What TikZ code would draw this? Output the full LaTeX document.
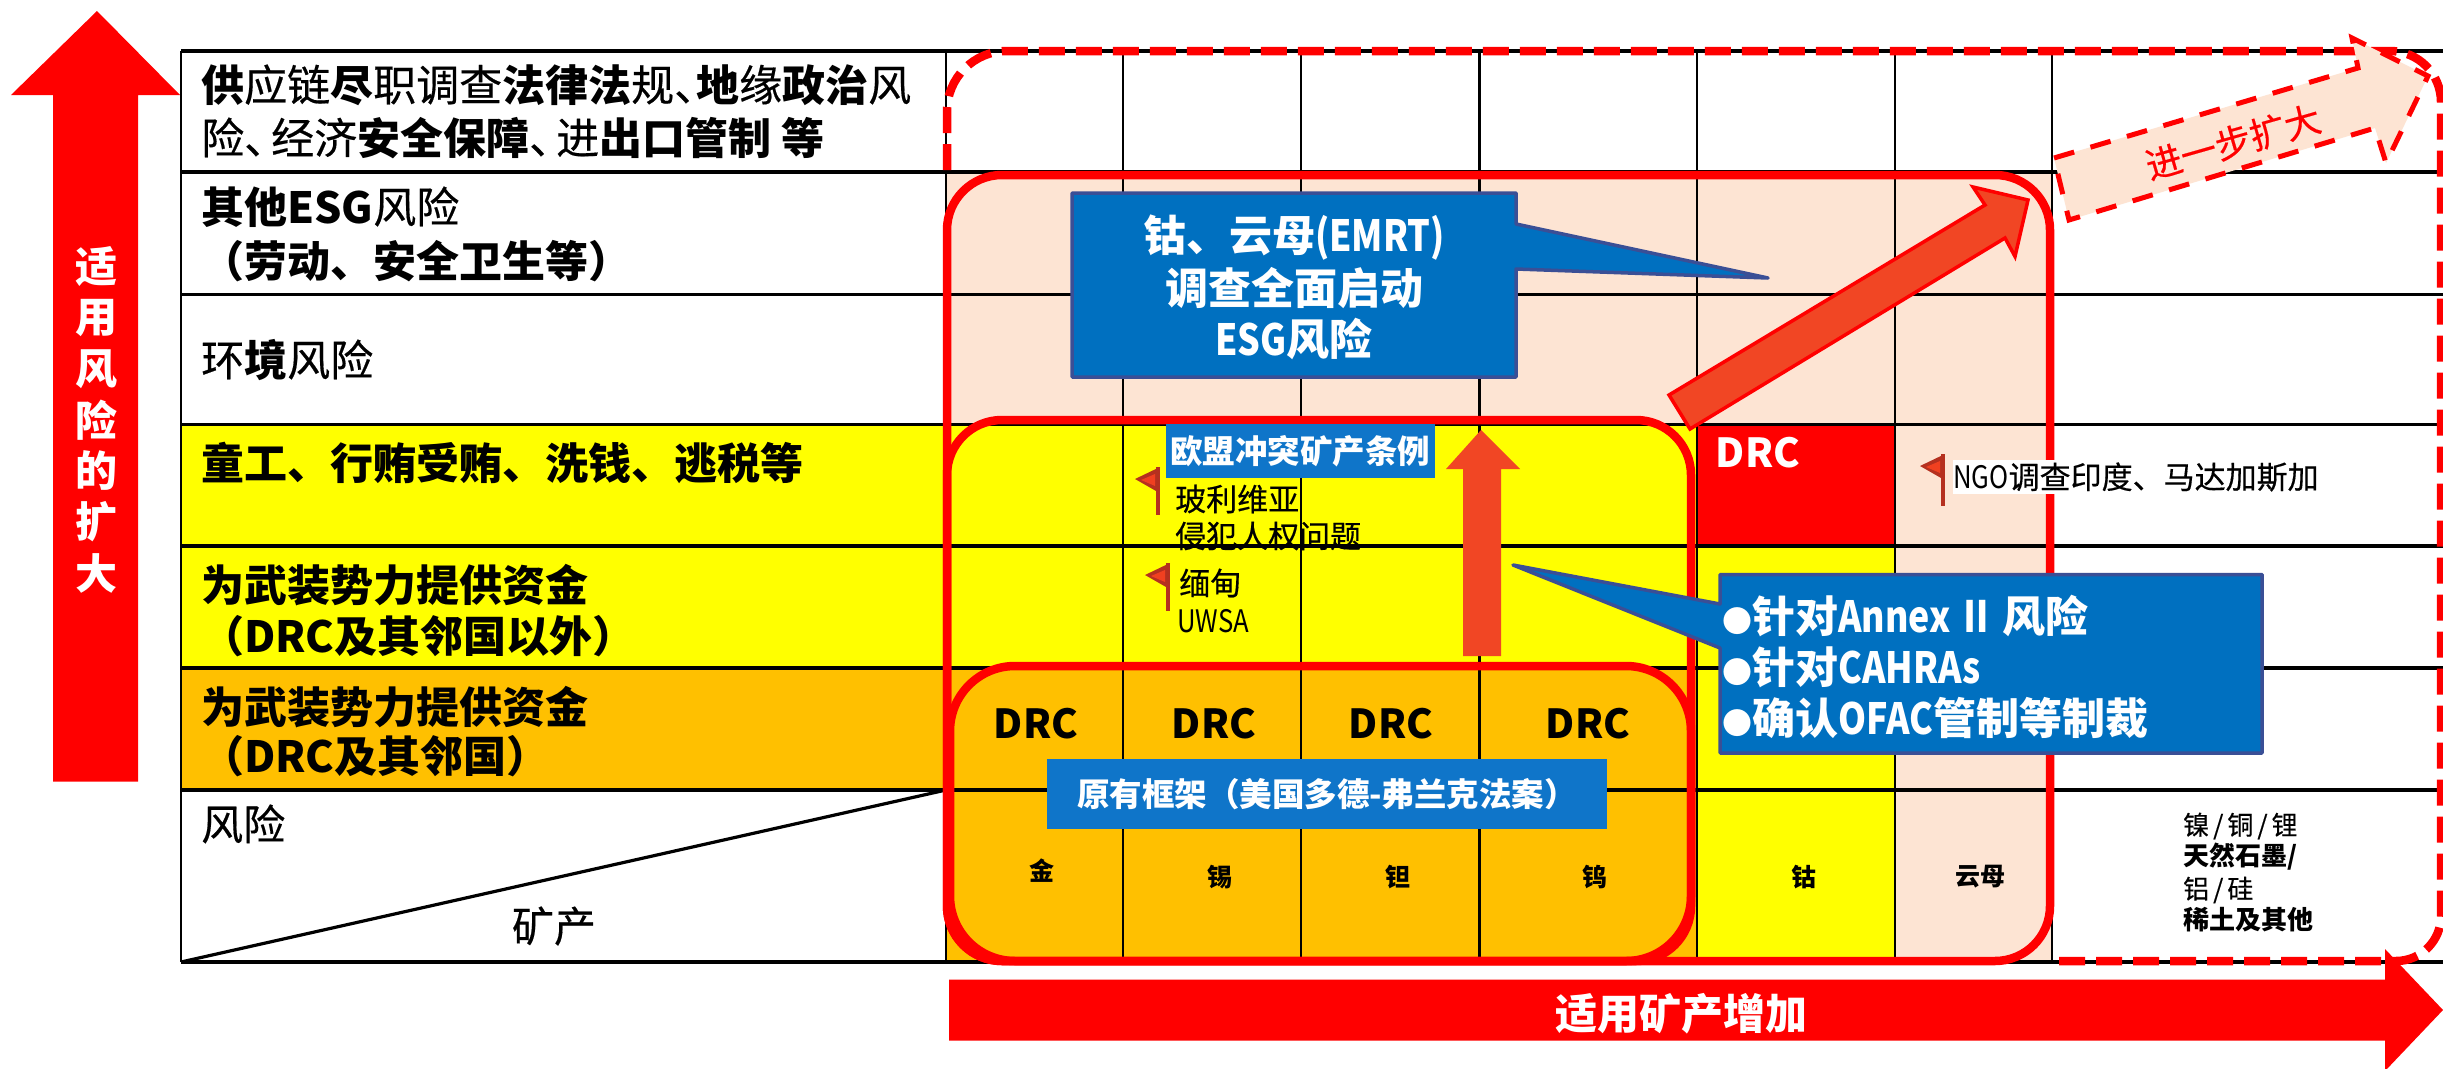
\documentclass[tikz,border=0pt]{standalone}
\usepackage{fontspec}
\setmainfont{Noto Sans CJK SC}
\newfontfamily\med[FakeBold=0.4]{Noto Sans CJK SC}
\newfontfamily\narrowl[FakeStretch=0.83]{Noto Sans CJK SC}
\usetikzlibrary{calc}
\definecolor{peach}{HTML}{FDE4D3}
\definecolor{orangecell}{HTML}{FFC000}
\definecolor{yellowcell}{HTML}{FFFF00}
\definecolor{calloutblue}{HTML}{0070C0}
\definecolor{calloutedge}{HTML}{3A4F96}
\definecolor{bannerblue}{HTML}{0F75C9}
\definecolor{arrowfill}{HTML}{F14624}
\definecolor{flagred}{HTML}{B5301F}
\definecolor{flagbright}{HTML}{F04020}
\newcommand{\fs}[1]{\fontsize{#1}{#1}\selectfont}
\newcommand{\B}[1]{{\normalfont\bfseries #1}}
\tikzset{
  x=1pt,y=-1pt,
  gridh/.style={black,line width=3.5pt},
  gridv/.style={black,line width=2.2pt},
  redbox/.style={draw=red,line width=8.5pt,rounded corners=#1},
  reddash/.style={draw=red,line width=8.5pt,dash pattern=on 26pt off 11pt},
  rowlbl/.style={anchor=base west,inner sep=0pt,font=\fs{43}\med},
  ctr/.style={anchor=center,inner sep=0pt},
  mineral/.style={ctr,font=\fs{25}\bfseries},
  listreg/.style={anchor=west,inner sep=0pt,font=\fs{26}\med},
  listbold/.style={anchor=west,inner sep=0pt,font=\fs{26}\bfseries},
  drc/.style={ctr,font=\fs{40}\bfseries},
  flagtext/.style={anchor=west,inner sep=0pt,font=\fs{31}\med},
  banner/.style={fill=bannerblue,inner sep=0pt,anchor=center,text=white},
  calloutpoly/.style={fill=calloutblue,draw=calloutedge,line width=3.5pt,line join=round},
  flagpole/.style={draw=flagred,line width=4.5pt},
  flagcloth/.style={fill=flagred},
  flaginner/.style={fill=flagbright},
  wtext/.style={ctr,text=white,font=\fs{43}\bfseries},
  wleft/.style={anchor=west,inner sep=0pt,text=white,font=\fs{43}\bfseries}
}
\begin{document}
\begin{tikzpicture}
\useasboundingbox (0,0) rectangle (2443,1068);
% ---- cell fills
\fill[white] (0,0) rectangle (2443,1068);
\fill[peach] (946,172) rectangle (2052,424);
\fill[yellowcell] (181,424) rectangle (1697,668);
\fill[orangecell] (181,668) rectangle (946,790);
\fill[orangecell] (946,668) rectangle (1697,962);
\fill[red] (1697,424) rectangle (1895,546);
\fill[yellowcell] (1697,546) rectangle (1895,962);
\fill[peach] (1895,424) rectangle (2052,962);
% ---- grid
\foreach \yy in {51,172,294.5,424.5,546,668,790,962}
  \draw[gridh] (181,\yy) -- (2443,\yy);
\draw[gridv] (181,51) -- (181,962);
\foreach \xx in {946,1123,1301,1479.5,1697,1895,2052}
  \draw[gridv] (\xx,51) -- (\xx,962);
\draw[black,line width=3.2pt] (181,962) -- (946,790);
% ---- row labels
\node[rowlbl] (r1a) at (201,101) {\B{供}应链\B{尽}职调查\B{法律法}规、\hspace{-21pt}\B{地}缘\B{政治}风};
\node[rowlbl] (r1b) at (201,154) {险、\hspace{-16pt}经济\B{安全保障}、\hspace{-16pt}进\B{出口管制 等}};
\node[rowlbl] (r2a) at (201,223) {\B{其他ESG}风险};
\node[rowlbl] (r2b) at (201,277) {\B{（劳动、安全卫生等）}};
\node[rowlbl] (r3) at (201,376) {环\B{境}风险};
\node[rowlbl] (r4) at (201,479) {\B{童工、行贿受贿、洗钱、逃税等}};
\node[rowlbl] (r5a) at (201,601) {\B{为武装势力提供资金}};
\node[rowlbl] (r5b) at (201,652) {\B{（DRC及其邻国以外）}};
\node[rowlbl] (r6a) at (201,723) {\B{为武装势力提供资金}};
\node[rowlbl] (r6b) at (201,772) {\B{（DRC及其邻国）}};
\node[rowlbl,font=\fs{42}\med] (r7) at (201,840) {风险};
\node[ctr,font=\fs{42}\med] (r8) at (554,926) {矿产};
% ---- dashed outer frame
\draw[reddash] (947,170) -- (947,111) arc[start angle=180,end angle=270,radius=60]
  -- (2390,51) arc[start angle=270,end angle=360,radius=51]
  -- (2441,916) arc[start angle=0,end angle=90,radius=45] -- (2050,961);
% ---- red rounded frames
\draw[redbox=55pt] (947,175) rectangle (2050,961);
\draw[redbox=55pt] (947,420) rectangle (1691,961);
\draw[redbox=65pt] (950,666) rectangle (1691,961);
% ---- cell contents
\node[drc] (d1) at (1036,724) {DRC};
\node[drc] (d2) at (1214,724) {DRC};
\node[drc] (d3) at (1391,724) {DRC};
\node[drc] (d4) at (1588,724) {DRC};
\node[drc,text=white] (d5) at (1758,453) {DRC};
\node[mineral] (m1) at (1042,871) {金};
\node[mineral] (m2) at (1220,877) {锡};
\node[mineral] (m3) at (1398,877) {钽};
\node[mineral] (m4) at (1595,877) {钨};
\node[mineral] (m5) at (1804,877) {钴};
\node[mineral] (m6) at (1980,877) {云母};
\node[listreg] (m7) at (2183,826) {镍\hspace{4pt}/\hspace{4pt}铜\hspace{4pt}/\hspace{4pt}锂};
\node[listbold] (m8) at (2183,857) {天然石墨/};
\node[listreg] (m9) at (2183,890) {铝\hspace{4pt}/\hspace{4pt}硅};
\node[listbold] (m10) at (2183,920) {稀土及其他};
% ---- banners
\node[banner,minimum width=560pt,minimum height=70pt,font=\fs{32.5}\bfseries] (b1) at (1327,794) {原有框架（美国多德-弗兰克法案）};
% ---- arrows
\fill[arrowfill] (1481,430) -- (1520,469) -- (1501,469) -- (1501,656) -- (1463,656) -- (1463,469) -- (1446,469) -- cycle;
\node[banner,minimum width=269pt,minimum height=54pt,font=\fs{32.5}\bfseries] (b2) at (1300,451) {欧盟冲突矿产条例};
\draw[fill=arrowfill,draw=red,line width=3.5pt] (1669,395) -- (1985,205) -- (1973,187) -- (2028,200) -- (2015,256.5) -- (2005,238) -- (1690,429) -- cycle;
\draw[fill=peach,draw=red,line width=5pt,dash pattern=on 21pt off 17pt] (2054,158) -- (2358,68) -- (2352,38) -- (2428,76) -- (2386,163) -- (2375,128) -- (2069,220) -- cycle;
\node[ctr,rotate=16,text=red,font=\fs{36}\med] (more) at (2233,142) {进一步扩大};
% ---- left arrow
\fill[red] (97,11) -- (180,95) -- (138,95) -- (138,781.5) -- (53,781.5) -- (53,95) -- (11,95) -- cycle;
\foreach \ch [count=\ii from 0] in {适,用,风,险,的,扩,大}
  \node[ctr,text=white,font=\fs{42}\bfseries] (v\ii) at (96,267+51*\ii) {\ch};
% ---- bottom arrow
\fill[red] (949,979.5) -- (2385,979.5) -- (2385,949) -- (2443,1010) -- (2385,1071) -- (2385,1040.5) -- (949,1040.5) -- cycle;
\node[wtext,font=\fs{42}\bfseries] (bt) at (1681,1014) {适用矿产增加};
% ---- callouts
\draw[calloutpoly] (1072,193) -- (1516,193) -- (1516,224) -- (1768,278) -- (1516,269) -- (1516,377) -- (1072,377) -- cycle;
\node[wtext] (c1a) at (1294,238) {钴、云母{\narrowl (EMRT)}};
\node[wtext] (c1b) at (1294,288.5) {调查全面启动};
\node[wtext] (c1c) at (1294,339) {{\narrowl ESG}风险};
\draw[calloutpoly] (1720,574.5) -- (2262,574.5) -- (2262,753) -- (1720,753) -- (1720,648) -- (1513,565) -- (1720,604) -- cycle;
\node[wleft] (c2a) at (1722,616) {{\fs{30}●}针对{\narrowl Annex Ⅱ }风险};
\node[wleft] (c2b) at (1722,667) {{\fs{30}●}针对{\narrowl CAHRAs}};
\node[wleft] (c2c) at (1722,718) {{\fs{30}●}确认{\narrowl OFAC}管制等制裁};
% ---- flags and annotations
\node[anchor=west,fill=white,inner ysep=2pt,inner xsep=0pt,font=\fs{31}\med] (ngo) at (1953,477) {{\narrowl NGO}调查印度、马达加斯加};
\draw[flagpole] (1158,467) -- (1158,515);
\fill[flagcloth] (1160,467) -- (1135,479) -- (1156,491) -- cycle;
\fill[flaginner] (1155,474) -- (1141,480) -- (1155,486) -- cycle;
\node[flagtext] (f1a) at (1175,499) {玻利维亚};
\node[flagtext] (f1b) at (1175,536) {侵犯人权问题};
\draw[flagpole] (1168,563) -- (1168,611);
\fill[flagcloth] (1170,563) -- (1145,575) -- (1166,587) -- cycle;
\fill[flaginner] (1165,570) -- (1151,576) -- (1165,582) -- cycle;
\node[flagtext] (f2a) at (1179,583) {缅甸};
\node[flagtext] (f2b) at (1177,621) {{\narrowl UWSA}};
\draw[flagpole] (1943,454) -- (1943,506);
\fill[flagcloth] (1945,454) -- (1920,466) -- (1941,478) -- cycle;
\fill[flaginner] (1940,461) -- (1926,467) -- (1940,473) -- cycle;
\end{tikzpicture}
\end{document}
